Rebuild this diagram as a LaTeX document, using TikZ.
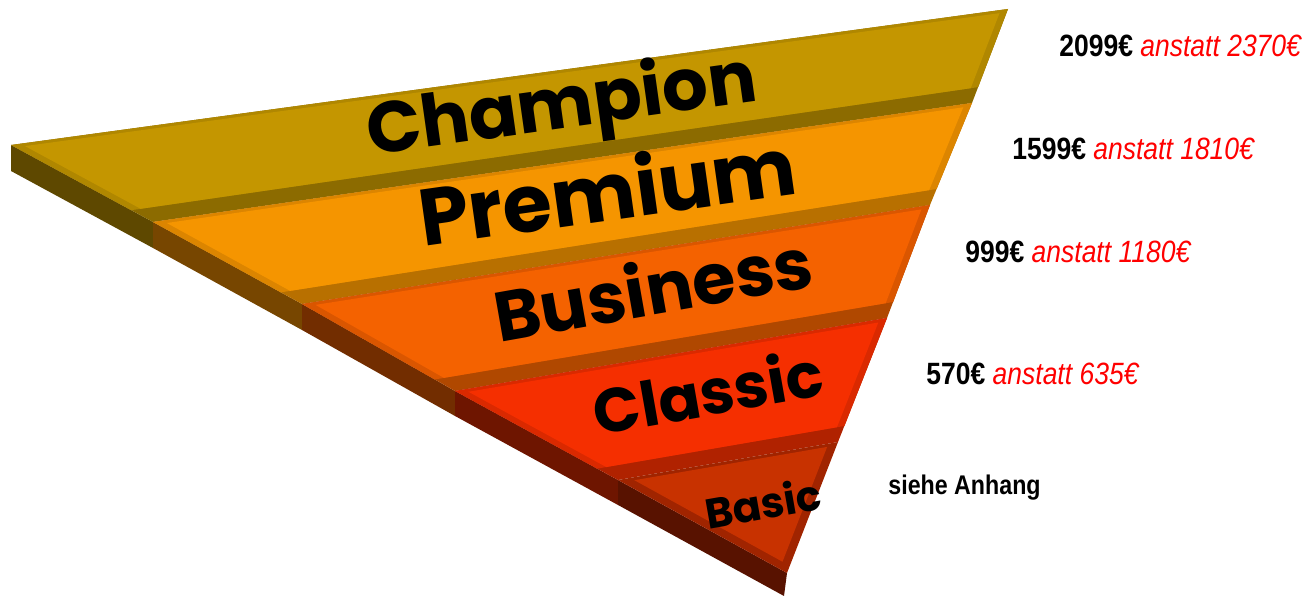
\documentclass[tikz,border=0pt]{standalone}
\usepackage{fontspec}
\usetikzlibrary{calc,positioning}
\newfontfamily\bandfont{Poppins}
\newfontfamily\pricefont[FakeStretch=0.86]{Liberation Sans}

\definecolor{face1}{HTML}{C49600}\definecolor{rim1}{HTML}{B08700}\definecolor{bevel1}{HTML}{8C6B00}\definecolor{side1}{HTML}{5E4800}
\definecolor{face2}{HTML}{F59500}\definecolor{rim2}{HTML}{DC8500}\definecolor{bevel2}{HTML}{B87000}\definecolor{side2}{HTML}{774600}
\definecolor{face3}{HTML}{F46200}\definecolor{rim3}{HTML}{DA5600}\definecolor{bevel3}{HTML}{B04800}\definecolor{side3}{HTML}{722D00}
\definecolor{face4}{HTML}{F52F00}\definecolor{rim4}{HTML}{DA2900}\definecolor{bevel4}{HTML}{B02200}\definecolor{side4}{HTML}{6E1500}
\definecolor{face5}{HTML}{C83200}\definecolor{bevel5}{HTML}{A02400}\definecolor{side5}{HTML}{581200}
\definecolor{oldprice}{HTML}{FF0000}

\begin{document}
\begin{tikzpicture}[x=0.5pt,y=-0.5pt,
    lbl/.style={inner sep=0pt, font=\bandfont\bfseries\fontsize{#1}{#1}\selectfont},
    price/.style={anchor=base west, inner sep=0pt, font=\pricefont\fontsize{15.4}{18}\selectfont}]
\useasboundingbox (0,0) rectangle (1311,597);

% corners of the bands, left edge P, right edge Q, slab bottom S
\coordinate (P0) at (11,145);  \coordinate (Q0) at (1008,9);   \coordinate (S0) at (11,171);
\coordinate (P1) at (153,222); \coordinate (Q1) at (972,103);  \coordinate (S1) at (153,248);
\coordinate (P2) at (302,304); \coordinate (Q2) at (930,205);  \coordinate (S2) at (302,330);
\coordinate (P3) at (455,391); \coordinate (Q3) at (887,318);  \coordinate (S3) at (455,416);
\coordinate (P4) at (618,480); \coordinate (Q4) at (838,442);  \coordinate (S4) at (618,505);
\coordinate (P5) at (787,573); \coordinate (S5) at (784,596);

% thickness of the slab
\foreach \i [count=\j from 0] in {1,...,5}
    \fill[side\i] (P\j) -- (P\i) -- (S\i) -- (S\j) -- cycle;

% the four upper bands
\foreach \i [count=\j from 0] in {1,...,4} {
    \coordinate (t1) at ($(P\j)+(0,3)$);   \coordinate (t2) at ($(Q\j)+(0,3)$);
    \coordinate (b1) at ($(P\i)+(0,-15)$); \coordinate (b2) at ($(Q\i)+(0,-15)$);
    \coordinate (l1) at ($(P\j)+(12,0)$);  \coordinate (l2) at ($(P\i)+(12,0)$);
    \coordinate (r1) at ($(Q\j)+(-7,0)$);  \coordinate (r2) at ($(Q\i)+(-7,0)$);
    \fill[bevel\i] (P\j) -- (Q\j) -- (Q\i) -- (P\i) -- cycle;
    \fill[rim\i] (P\j) -- (Q\j) -- (intersection of b1--b2 and Q\j--Q\i)
        -- (intersection of b1--b2 and P\j--P\i) -- cycle;
    \fill[face\i] (intersection of t1--t2 and l1--l2) -- (intersection of t1--t2 and r1--r2)
        -- (intersection of b1--b2 and r1--r2) -- (intersection of b1--b2 and l1--l2) -- cycle;
}

% the tip
\coordinate (t1) at ($(P4)+(0,3)$);   \coordinate (t2) at ($(Q4)+(0,3)$);
\coordinate (l1) at ($(P4)+(16,0)$);  \coordinate (l2) at ($(P5)+(16,0)$);
\coordinate (r1) at ($(Q4)+(-9,0)$);  \coordinate (r2) at ($(P5)+(-9,0)$);
\fill[bevel5] (P4) -- (Q4) -- (P5) -- cycle;
\fill[face5] (intersection of t1--t2 and l1--l2) -- (intersection of t1--t2 and r1--r2)
    -- (intersection of l1--l2 and r1--r2) -- cycle;

% band names
\node[lbl=36, rotate=8]  (champion) at (562,109) {Champion};
\node[lbl=40, rotate=8]  (premium)  at (607,189) {Premium};
\node[lbl=35, rotate=10] (business) at (653,287) {Business};
\node[lbl=31, rotate=10] (classic)  at (708,391) {Classic};
\node[lbl=21, rotate=10] (basic)    at (763,503) {Basic};

% prices
\node[price] (champ-price) at (1059,57)  {\bfseries 2099€ {\mdseries\itshape\color{oldprice}anstatt 2370€}};
\node[price] (prem-price)  at (1012,160) {\bfseries 1599€ {\mdseries\itshape\color{oldprice}anstatt 1810€}};
\node[price] (bus-price)   at (965,263)  {\bfseries 999€ {\mdseries\itshape\color{oldprice}anstatt 1180€}};
\node[price] (class-price) at (926,385)  {\bfseries 570€ {\mdseries\itshape\color{oldprice}anstatt 635€}};
\node[price, font=\pricefont\fontsize{13.5}{16}\selectfont] (basic-price) at (888,495) {\bfseries siehe Anhang};
\end{tikzpicture}
\end{document}
